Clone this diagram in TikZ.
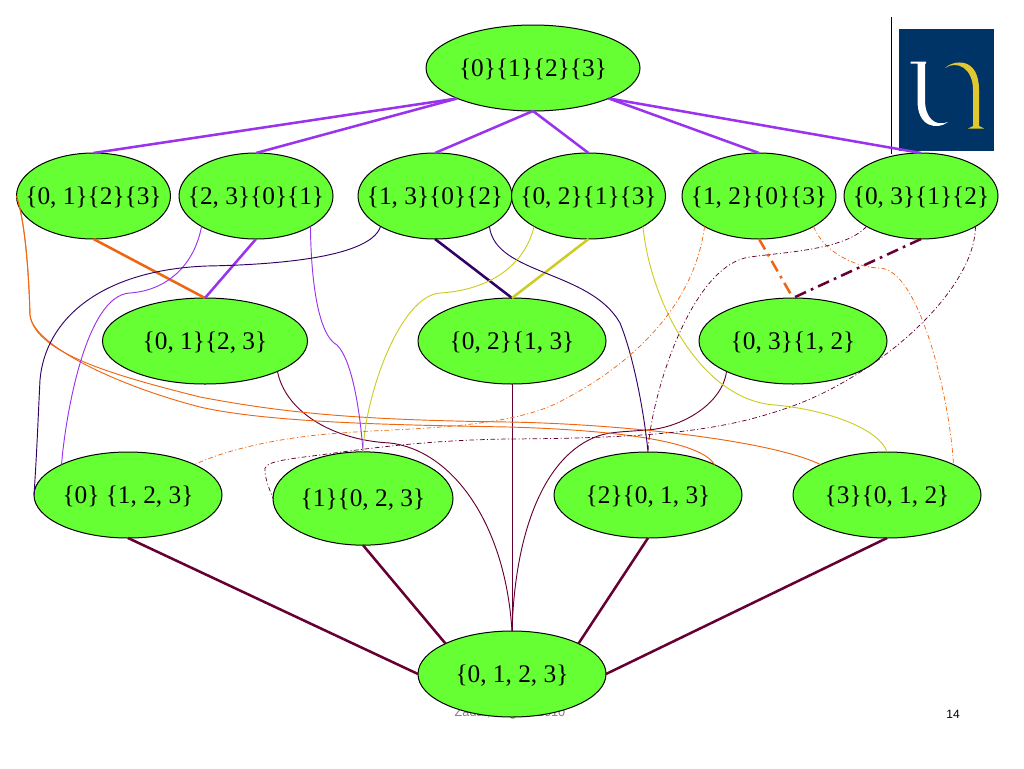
\documentclass[tikz,border=0pt]{standalone}
\usepackage{fontspec}
\setmainfont{Liberation Serif}
\setsansfont{Liberation Sans}
\usepackage{xcolor}
\usetikzlibrary{shapes.geometric}
\definecolor{setgreen}{HTML}{66FF33}
\definecolor{linepurple}{HTML}{9933EE}
\definecolor{lineorange}{HTML}{EE6611}
\definecolor{lineindigo}{HTML}{330066}
\definecolor{lineyellow}{HTML}{CCCC22}
\definecolor{linemaroon}{HTML}{660033}
\definecolor{logoblue}{HTML}{003366}
\definecolor{logogold}{HTML}{E0C830}
\newcommand{\setlab}[1]{\makebox[0pt]{\raisebox{-0.32em}[0pt][0pt]{#1}}}
\tikzset{
  setnode/.style={ellipse,draw=black,line width=0.75pt,fill=setgreen,inner sep=0pt,outer sep=0pt,font=\fontsize{19}{21}\selectfont},
  setsmall/.style={setnode,minimum width=115.5pt,minimum height=64.5pt},
  setmid/.style={setnode,minimum width=141pt,minimum height=64.5pt},
  heavy/.style={line width=1.9pt},
  fine/.style={line width=0.7pt},
  dashheavy/.style={heavy,dash pattern=on 9pt off 4pt on 2pt off 4pt},
  dashfine/.style={line width=0.55pt,dash pattern=on 3.5pt off 1.8pt on 0.8pt off 1.8pt}
}

\begin{document}
\begin{tikzpicture}[x=0.75pt,y=-0.75pt]
  \useasboundingbox (0,0) rectangle (1024,768);
  % Logo
  \draw[black,line width=0.9pt] (891.5,17) -- (891.5,154);
  \fill[logoblue] (899,29) rectangle (994,151);
  \fill[white] (910.5,61.5) -- (926,61.5) -- (926,63.5) -- (925,63.5) -- (925,100)
    .. controls (925,118) and (935,127) .. (948,122) .. controls (938,130) and (917,128) .. (917.5,100)
    -- (917.5,63.5) -- (910.5,63.5) -- cycle;
  \fill[logogold] (945,68) .. controls (953,60) and (979,56) .. (979,90) -- (979,126) -- (984,128.5) -- (968,128.5)
    -- (973,126) -- (973,90) .. controls (973,68) and (957,60) .. (945,68) -- cycle;
  % Footer
  \node[font=\sffamily\fontsize{9.5}{11}\selectfont,text=gray] (foot) at (510,713) {Zadar, August 2010};
  \node[font=\sffamily\fontsize{9}{11}\selectfont] (page) at (953,714) {14};
  % Partitions
  \node[setnode,minimum width=160.5pt,minimum height=64.5pt] (ntop) at (533,68) {\setlab{\{0\}\{1\}\{2\}\{3\}}};
  \node[setsmall] (n01) at (93.5,196) {\setlab{\{0, 1\}\{2\}\{3\}}};
  \node[setsmall] (n23) at (256,196) {\setlab{\{2, 3\}\{0\}\{1\}}};
  \node[setsmall] (n13) at (435,196) {\setlab{\{1, 3\}\{0\}\{2\}}};
  \node[setsmall] (n02) at (588.5,196) {\setlab{\{0, 2\}\{1\}\{3\}}};
  \node[setsmall] (n12) at (759,196) {\setlab{\{1, 2\}\{0\}\{3\}}};
  \node[setsmall] (n03) at (921,196) {\setlab{\{0, 3\}\{1\}\{2\}}};
  \node[setnode,minimum width=153.75pt,minimum height=64.5pt] (p01) at (205,341) {\setlab{\{0, 1\}\{2, 3\}}};
  \node[setmid] (p02) at (512,341) {\setlab{\{0, 2\}\{1, 3\}}};
  \node[setmid] (p03) at (793,341) {\setlab{\{0, 3\}\{1, 2\}}};
  \node[setmid] (s0) at (128,495) {\setlab{\{0\} \{1, 2, 3\}}};
  \node[setnode,minimum width=135pt,minimum height=70pt] (s1) at (363,498.5) {\setlab{\{1\}\{0, 2, 3\}}};
  \node[setmid] (s2) at (648,495) {\setlab{\{2\}\{0, 1, 3\}}};
  \node[setmid] (s3) at (887,495) {\setlab{\{3\}\{0, 1, 2\}}};
  \node[setmid] (nbot) at (512,674) {\setlab{\{0, 1, 2, 3\}}};
  % Top level to pairs
  \draw[heavy,linepurple] (ntop.south west) -- (n01.north);
  \draw[heavy,linepurple] (ntop.south west) -- (n23.north);
  \draw[heavy,linepurple] (ntop.south) -- (n13.north);
  \draw[heavy,linepurple] (ntop.south) -- (n02.north);
  \draw[heavy,linepurple] (ntop.south east) -- (n12.north);
  \draw[heavy,linepurple] (ntop.south east) -- (n03.north);
  % Pairs to double pairs
  \draw[heavy,lineorange] (n01.south) -- (p01.north);
  \draw[heavy,linepurple] (n23.south) -- (p01.north);
  \draw[heavy,lineindigo] (n13.south) -- (p02.north);
  \draw[heavy,lineyellow] (n02.south) -- (p02.north);
  \draw[dashheavy,lineorange] (n12.south) -- (p03.north);
  \draw[dashheavy,linemaroon] (n03.south) -- (p03.north);
  % Singletons to bottom
  \draw[heavy,linemaroon] (s0.south) -- (nbot.west);
  \draw[heavy,linemaroon] (s1.south) -- (nbot.north west);
  \draw[heavy,linemaroon] (s2.south) -- (nbot.north east);
  \draw[heavy,linemaroon] (s3.south) -- (nbot.east);
  % Double pairs to bottom
  \draw[fine,linemaroon] (p01.south east) .. controls (285,410) and (330,440) .. (390,443)
    .. controls (450,450) and (505,520) .. (nbot.north);
  \draw[fine,linemaroon] (p02.south) -- (nbot.north);
  \draw[fine,linemaroon] (p03.south west) .. controls (722,405) and (680,428) .. (647,430)
    .. controls (620,432) and (610,432) .. (598,436) .. controls (545,455) and (515,530) .. (nbot.north);
  % Orange pair curves
  \draw[fine,lineorange] (n01.west) .. controls (26,225) and (29,280) .. (30,315)
    .. controls (35,355) and (125,378) .. (200,397) .. controls (280,412) and (350,420) .. (509,422)
    .. controls (620,424) and (770,440) .. (s3.north west);
  \draw[fine,lineorange] (n01.west) .. controls (26,225) and (29,280) .. (30,315)
    .. controls (33,345) and (115,385) .. (200,407) .. controls (270,423) and (400,425) .. (509,427)
    .. controls (610,430) and (700,440) .. (s2.north east);
  % Purple curves
  \draw[fine,linepurple] (n23.south west) .. controls (195,262) and (170,290) .. (130,293)
    .. controls (85,295) and (65,420) .. (s0.north west);
  \draw[fine,linepurple] (n23.south east) .. controls (311,280) and (318,335) .. (337,345)
    .. controls (352,360) and (360,410) .. (s1.north);
  % Indigo curves
  \draw[fine,lineindigo] (n13.south west) .. controls (370,260) and (260,265) .. (207,266)
    .. controls (100,270) and (45,320) .. (40,380) .. controls (38,420) and (37,450) .. (s0.west);
  \draw[fine,lineindigo] (n13.south east) .. controls (495,275) and (590,270) .. (620,323)
    .. controls (635,360) and (645,420) .. (s2.north);
  % Yellow curves
  \draw[fine,lineyellow] (n02.south west) .. controls (525,265) and (490,290) .. (440,293)
    .. controls (400,296) and (365,395) .. (s1.north);
  \draw[fine,lineyellow] (n02.south east) .. controls (650,300) and (700,400) .. (775,405)
    .. controls (830,410) and (880,430) .. (s3.north);
  % Dashed orange curves
  \draw[dashfine,lineorange] (n12.south west) .. controls (695,300) and (640,360) .. (563,400)
    .. controls (510,430) and (400,428) .. (341,433) .. controls (280,437) and (225,450) .. (s0.north east);
  \draw[dashfine,lineorange] (n12.south east) .. controls (825,255) and (860,268) .. (880,268)
    .. controls (920,270) and (950,400) .. (s3.north east);
  % Dashed maroon curves
  \draw[dashfine,linemaroon] (n03.south west) .. controls (845,250) and (785,252) .. (750,257)
    .. controls (690,265) and (650,400) .. (s2.north);
  \draw[dashfine,linemaroon] (n03.south east) .. controls (975,290) and (880,375) .. (790,407)
    .. controls (720,432) and (650,438) .. (509,439) .. controls (430,440) and (370,448) .. (320,455)
    .. controls (280,460) and (262,462) .. (265,472) .. controls (266,482) and (270,490) .. (s1.west);
\end{tikzpicture}
\end{document}
